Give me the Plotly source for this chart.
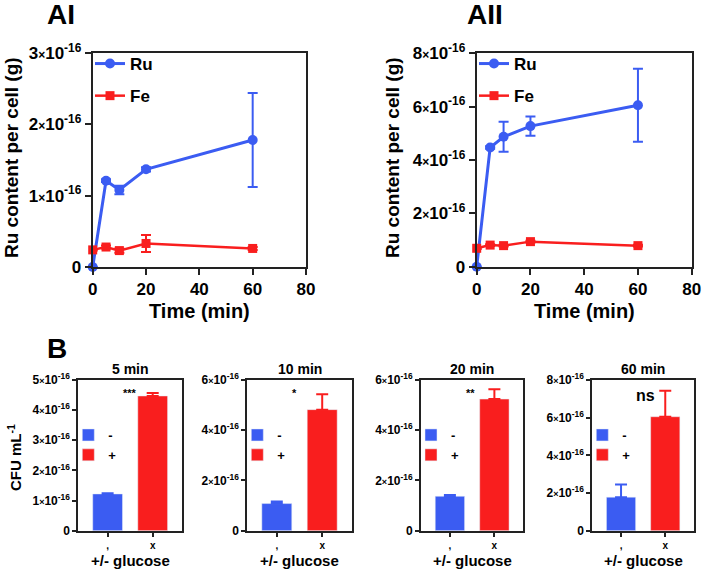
import plotly.graph_objects as go

# ---------------- data ----------------
time_min = [0, 5, 10, 20, 60]

ru_AI = [0.0, 1.21e-16, 1.08e-16, 1.37e-16, 1.78e-16]
ru_AI_err = [0.0, 0.02e-16, 0.06e-16, 0.03e-16, 0.66e-16]
fe_AI = [0.24e-16, 0.28e-16, 0.23e-16, 0.33e-16, 0.26e-16]
fe_AI_err = [0.01e-16, 0.02e-16, 0.03e-16, 0.12e-16, 0.02e-16]

ru_AII = [0.0, 4.47e-16, 4.87e-16, 5.27e-16, 6.05e-16]
ru_AII_err = [0.0, 0.05e-16, 0.56e-16, 0.36e-16, 1.37e-16]
fe_AII = [0.69e-16, 0.81e-16, 0.79e-16, 0.94e-16, 0.79e-16]
fe_AII_err = [0.03e-16, 0.03e-16, 0.03e-16, 0.03e-16, 0.03e-16]

b_titles = ["5 min", "10 min", "20 min", "60 min"]
b_minus = [1.22e-16, 1.08e-16, 1.37e-16, 1.78e-16]
b_minus_err = [0.02e-16, 0.08e-16, 0.05e-16, 0.67e-16]
b_plus = [4.47e-16, 4.82e-16, 5.24e-16, 6.05e-16]
b_plus_err = [0.10e-16, 0.61e-16, 0.39e-16, 1.38e-16]
b_sig = ["***", "*", "**", "ns"]
b_ymax = [5, 6, 6, 8]
b_tickstep = [1, 2, 2, 2]
b_cats = [",", "x"]

BLUE = "#3b5cf2"
RED = "#f91e1e"
FONT = "Liberation Sans, Arial, sans-serif"
W, H = 703, 578


def px(x):
    return x / W


def py(y):
    return 1 - y / H


def sci(k, size_x):
    if k == 0:
        return "0"
    return f"{k}<span style='font-size:{size_x}px'>×</span>10<sup>-16</sup>"


fig = go.Figure()

# ---------------- top panels ----------------
top = [
    ("x", "y", ru_AI, ru_AI_err, fe_AI, fe_AI_err, "legend"),
    ("x2", "y2", ru_AII, ru_AII_err, fe_AII, fe_AII_err, "legend2"),
]
for xa, ya, ru, rue, fe, fee, lg in top:
    fig.add_trace(go.Scatter(
        x=time_min, y=ru, name="<b>Ru</b>", xaxis=xa, yaxis=ya, legend=lg,
        legendgroup=lg + "ru", mode="lines+markers",
        line=dict(color=BLUE, width=3), marker=dict(symbol="circle", size=10, color=BLUE),
        error_y=dict(type="data", array=rue, color=BLUE, thickness=2, width=5),
        cliponaxis=False))
    fig.add_trace(go.Scatter(
        x=time_min, y=fe, name="<b>Fe</b>", xaxis=xa, yaxis=ya, legend=lg,
        legendgroup=lg + "fe", mode="lines+markers",
        line=dict(color=RED, width=2.5), marker=dict(symbol="square", size=9, color=RED),
        error_y=dict(type="data", array=fee, color=RED, thickness=2, width=5),
        cliponaxis=False))

# ---------------- bottom panels ----------------
b_xdom = [(78.3, 182), (247.3, 351.7), (421, 523.3), (592.3, 694)]
for i in range(4):
    xa = f"x{i+3}"
    ya = f"y{i+3}"
    lg = f"legend{i+3}"
    fig.add_trace(go.Bar(
        x=[b_cats[0]], y=[b_minus[i]], name="<b>-</b>", xaxis=xa, yaxis=ya, legend=lg,
        legendgroup=lg + "m", marker=dict(color=BLUE), width=0.66,
        error_y=dict(type="data", array=[b_minus_err[i]], arrayminus=[0], symmetric=False,
                     color=BLUE, thickness=2, width=6)))
    fig.add_trace(go.Bar(
        x=[b_cats[1]], y=[b_plus[i]], name="<b>+</b>", xaxis=xa, yaxis=ya, legend=lg,
        legendgroup=lg + "p", marker=dict(color=RED), width=0.66,
        error_y=dict(type="data", array=[b_plus_err[i]], arrayminus=[0], symmetric=False,
                     color=RED, thickness=2, width=6)))

layout = dict(
    width=W, height=H, margin=dict(l=0, r=0, t=0, b=0, pad=0, autoexpand=False),
    paper_bgcolor="white", plot_bgcolor="white",
    font=dict(family=FONT, color="black"),
    barmode="overlay",
)

axis_common = dict(showline=True, linecolor="#222", linewidth=2, mirror=True,
                   showgrid=False, zeroline=False, ticks="outside", tickcolor="#222",
                   tickwidth=2, automargin=False)

# top axes
top_dom = [((92.7, 306), (53, 267)), ((476.7, 691.7), (53.3, 266.7))]
top_ymax = [3, 8]
top_step = [1, 2]
for j, ((x0, x1), (y0, y1)) in enumerate(top_dom):
    sx = "xaxis" if j == 0 else "xaxis2"
    sy = "yaxis" if j == 0 else "yaxis2"
    ya_name = "y" if j == 0 else "y2"
    xa_name = "x" if j == 0 else "x2"
    layout[sx] = dict(axis_common, domain=[px(x0), px(x1)], range=[0, 80],
                      tickvals=[0, 20, 40, 60, 80], ticklen=6, anchor=ya_name,
                      tickfont=dict(size=17, family=FONT, weight="bold"))
    ks = list(range(0, top_ymax[j] + 1, top_step[j]))
    layout[sy] = dict(axis_common, domain=[py(y1), py(y0)], range=[0, top_ymax[j] * 1e-16],
                      tickvals=[k * 1e-16 for k in ks], ticktext=[sci(k, 12) for k in ks],
                      ticklen=6, anchor=xa_name,
                      tickfont=dict(size=17, family=FONT, weight="bold"))

# bottom axes
for i, (x0, x1) in enumerate(b_xdom):
    n = i + 3
    ks = list(range(0, b_ymax[i] + 1, b_tickstep[i]))
    layout[f"xaxis{n}"] = dict(axis_common, domain=[px(x0), px(x1)], range=[-0.65, 1.65],
                               type="category", categoryorder="array", categoryarray=b_cats,
                               ticklen=4, anchor=f"y{n}",
                               tickfont=dict(size=10, family=FONT, weight="bold"))
    layout[f"yaxis{n}"] = dict(axis_common, domain=[py(530.7), py(380)],
                               range=[0, b_ymax[i] * 1e-16],
                               tickvals=[k * 1e-16 for k in ks], ticktext=[sci(k, 9) for k in ks],
                               ticklen=4, anchor=f"x{n}",
                               tickfont=dict(size=12, family=FONT, weight="bold"))

# legends
layout["legend"] = dict(x=px(90), y=py(46), xanchor="left", yanchor="top",
                        bgcolor="rgba(0,0,0,0)", font=dict(size=17, family=FONT),
                        tracegroupgap=7, itemwidth=30)
layout["legend2"] = dict(x=px(474), y=py(46), xanchor="left", yanchor="top",
                         bgcolor="rgba(0,0,0,0)", font=dict(size=17, family=FONT),
                         tracegroupgap=7, itemwidth=30)
for i, (x0, x1) in enumerate(b_xdom):
    layout[f"legend{i+3}"] = dict(x=px(x0 - 10), y=py(420), xanchor="left", yanchor="top",
                                  bgcolor="rgba(0,0,0,0)", font=dict(size=13, family=FONT),
                                  tracegroupgap=0, itemwidth=30)

fig.update_layout(**layout)

# ---------------- annotations ----------------
ann = []


def A(text, x, y, size, angle=0):
    ann.append(dict(text=text, x=px(x), y=py(y), xref="paper", yref="paper",
                    showarrow=False, font=dict(size=size, family=FONT, color="black"),
                    textangle=angle, xanchor="center", yanchor="middle"))


A("<b>AI</b>", 61, 15, 28)
A("<b>AII</b>", 485, 15, 28)
A("<b>B</b>", 57, 348, 28)
A("<b>Ru content per cell (g)</b>", 12, 158, 19, -90)
A("<b>Ru content per cell (g)</b>", 393, 158, 19, -90)
A("<b>Time (min)</b>", 199, 311, 20)
A("<b>Time (min)</b>", 584, 311, 20)
A("<b>CFU mL<sup>-1</sup></b>", 14, 458, 15, -90)
sig_pos = [(130, 393, 11), (294, 393, 11), (470, 393, 11), (645, 396, 16)]
for i, (x0, x1) in enumerate(b_xdom):
    c = (x0 + x1) / 2
    A(f"<b>{b_titles[i]}</b>", c, 369, 14)
    A("<b>+/- glucose</b>", c, 560, 15)
    sx, sy, ss = sig_pos[i]
    A(f"<b>{b_sig[i]}</b>", sx, sy, ss)

fig.update_layout(annotations=ann)
fig.write_html("out.html", config={"displayModeBar": False},
               post_script="document.body.style.margin='0';document.body.style.padding='0';")
